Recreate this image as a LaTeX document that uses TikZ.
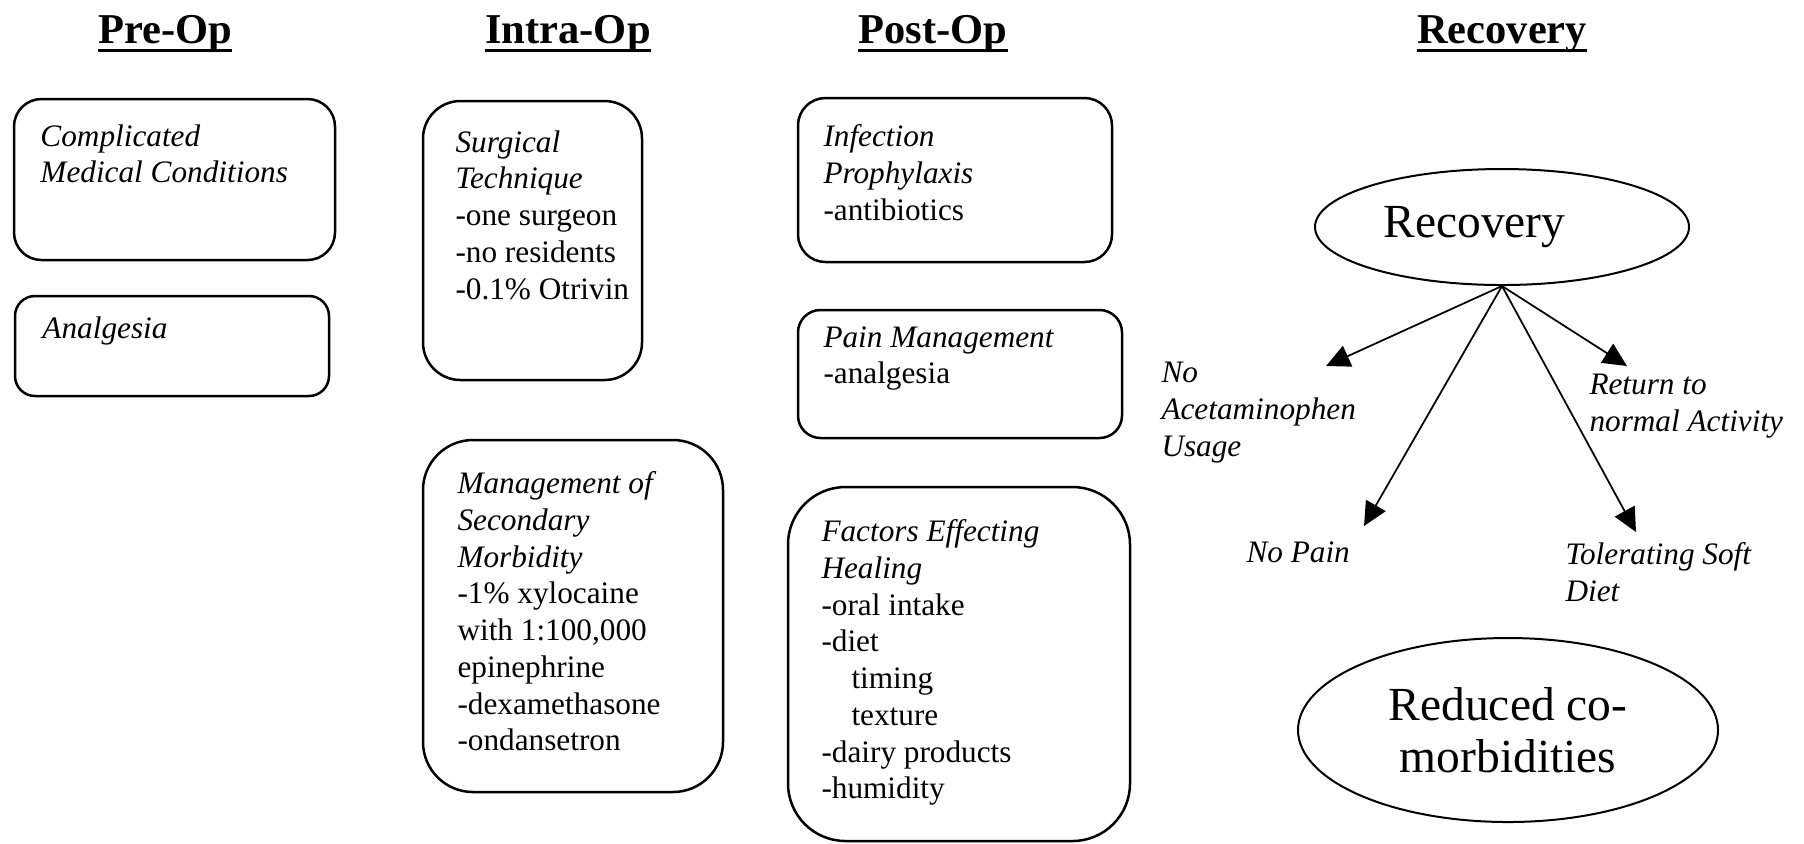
\documentclass[tikz,border=0pt]{standalone}
\usepackage{fontspec}
\setmainfont{Liberation Serif}
\usepackage{tikz}
\usetikzlibrary{arrows.meta}
\usetikzlibrary{shapes.geometric}
\usetikzlibrary{fit}
\tikzset{>={Triangle[length=9.5pt,width=9pt]}}
\tikzset{
	box/.style={draw, line width=1pt, rounded corners=#1, inner sep=0pt},
	txt/.style={anchor=north west, inner sep=0pt, align=left, font=\fontsize{12.5}{14.7}\selectfont},
	head/.style={anchor=base, inner sep=0pt, font=\bfseries\fontsize{17}{20}\selectfont},
	uline/.style={line width=1.2pt},
	oval/.style={draw, ellipse, line width=0.8pt, inner sep=0pt, align=center, font=\fontsize{19}{21}\selectfont},
	ray/.style={->, line width=0.7pt}
}

\begin{document}
\begin{tikzpicture}[x=0.4pt,y=-0.4pt]
		\useasboundingbox (0,0) rectangle (1804,843);
		%column headings
		\node[head] (hpre) at (165,43) {Pre-Op};
		\node[head] (hintra) at (568,43) {Intra-Op};
		\node[head] (hpost) at (933,43) {Post-Op};
		\node[head] (hrec) at (1502,43) {Recovery};
		\foreach \h in {hpre,hintra,hpost,hrec}
			\draw[uline] ([yshift=-2.8pt]\h.base west) -- ([yshift=-2.8pt]\h.base east);
		%pre-op
		\node[box=11pt, fit={(14,99) (335,260)}] (cmc) {};
		\node[txt] (cmctext) at (40,124) {\textit{Complicated}\\\textit{Medical Conditions}};
		\node[box=8pt, fit={(15,296) (329,396)}] (anl) {};
		\node[txt] (anltext) at (42,316) {\textit{Analgesia}};
		%intra-op
		\node[box=15pt, fit={(423,101) (642,380)}] (surg) {};
		\node[txt] (surgtext) at (455,130) {\textit{Surgical}\\\textit{Technique}\\-one surgeon\\-no residents\\-0.1\% Otrivin};
		\node[box=20pt, fit={(423,440) (723,792)}] (mgmt) {};
		\node[txt] (mgmttext) at (457,471) {\textit{Management of}\\\textit{Secondary}\\\textit{Morbidity}\\-1\% xylocaine\\with 1:100,000\\epinephrine\\-dexamethasone\\-ondansetron};
		%post-op
		\node[box=11pt, fit={(798,98) (1112,262)}] (inf) {};
		\node[txt] (inftext) at (823,124) {\textit{Infection}\\\textit{Prophylaxis}\\-antibiotics};
		\node[box=9pt, fit={(798,310) (1122,438)}] (pain) {};
		\node[txt] (paintext) at (823,326) {\textit{Pain Management}\\-analgesia};
		\node[box=23pt, fit={(788,487) (1130,841)}] (heal) {};
		\node[txt] (healtext) at (821,519) {\textit{Factors Effecting}\\\textit{Healing}\\-oral intake\\-diet\\\hspace*{12pt}timing\\\hspace*{12pt}texture\\-dairy products\\-humidity};
		%recovery
		\node[oval, minimum width=149.6pt, minimum height=46.4pt] (recovery) at (1502,227) {Recovery\hspace*{22pt}};
		\node[oval, minimum width=168pt, minimum height=73.6pt] (reduced) at (1508,730) {Reduced co-\\morbidities};
		\node[txt] (acet) at (1161,362) {\textit{No}\\\textit{Acetaminophen}\\\textit{Usage}};
		\node[txt] (nopain) at (1246,541) {\textit{No Pain}};
		\node[txt] (ret) at (1589,374) {\textit{Return to}\\\textit{normal Activity}};
		\node[txt] (soft) at (1565,542) {\textit{Tolerating Soft}\\\textit{Diet}};
		%arrow tips
		\coordinate (acettip) at (1326,366);
		\coordinate (nopaintip) at (1364,526);
		\coordinate (softtip) at (1636,532);
		\coordinate (rettip) at (1627,366);
		\foreach \t in {acettip,nopaintip,softtip,rettip}
			\draw[ray] (recovery.south) -- (\t);
	\end{tikzpicture}
\end{document}
